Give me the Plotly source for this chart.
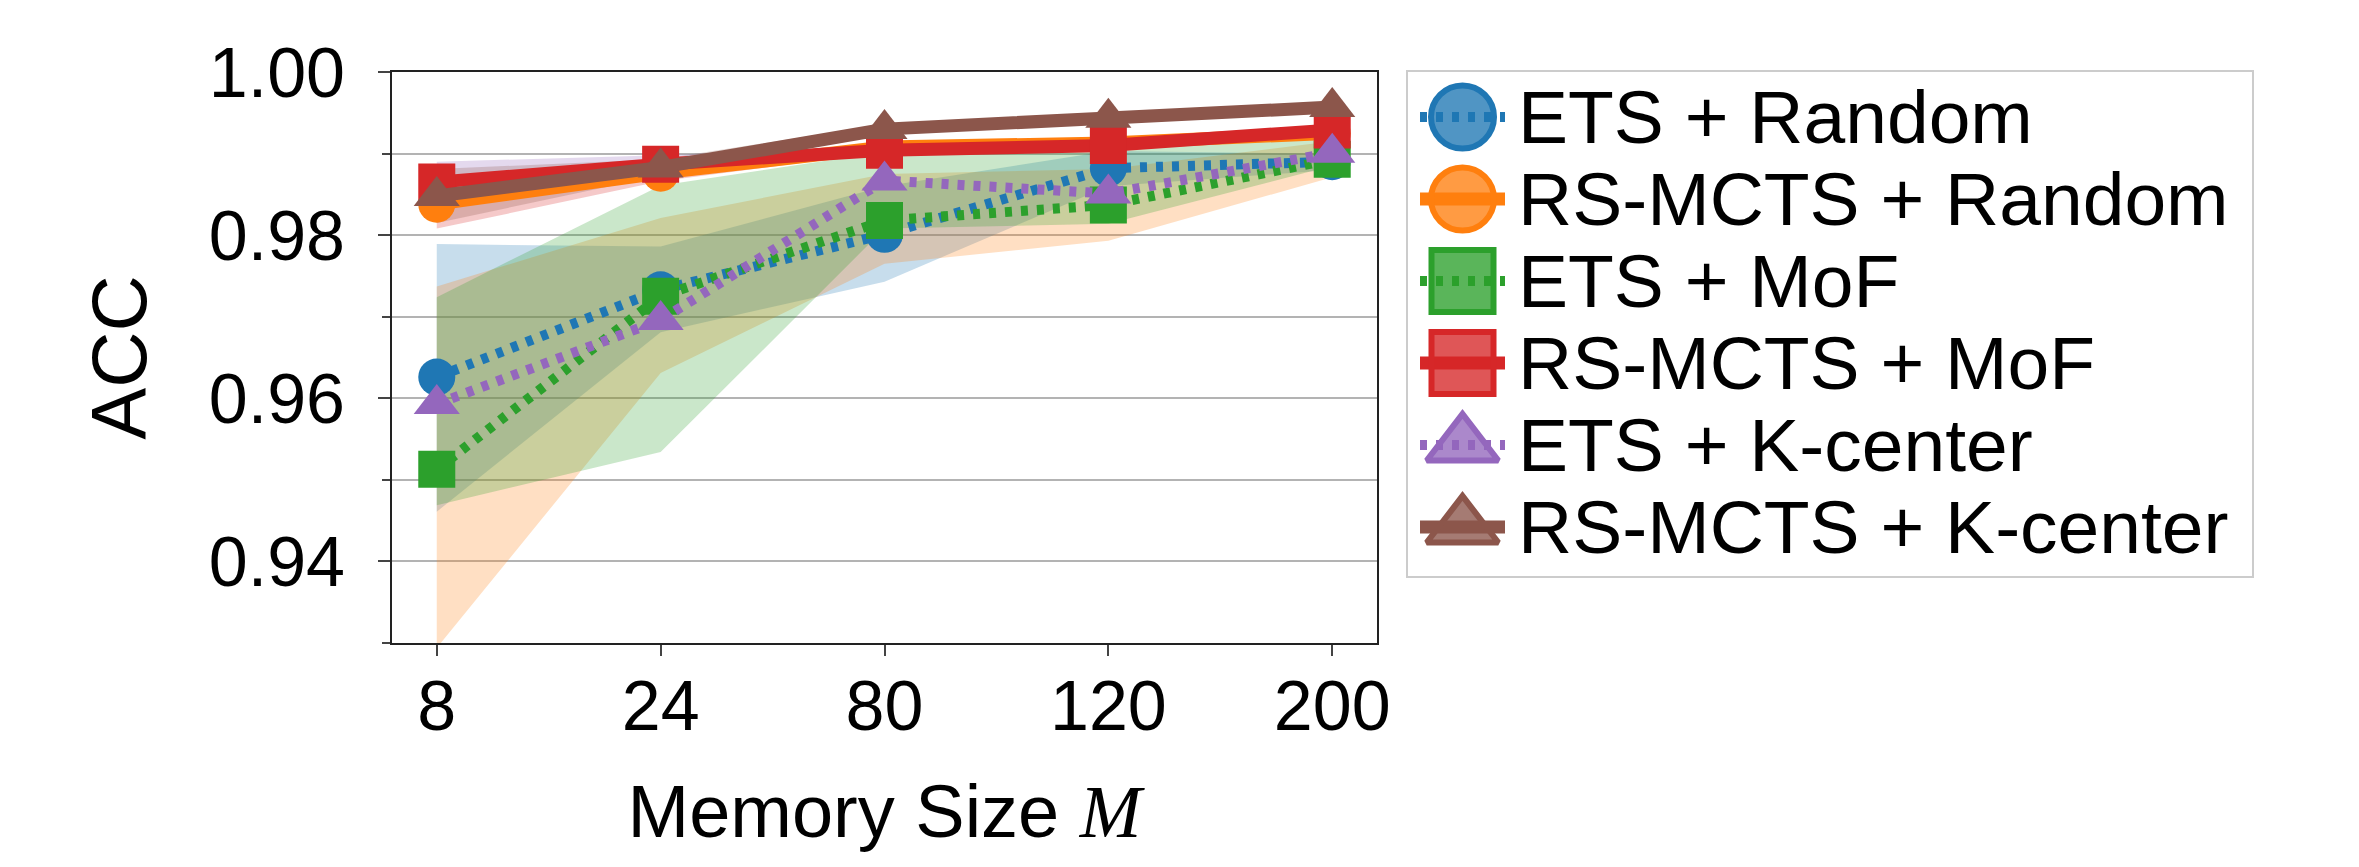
import plotly.graph_objects as go

# ---------------- data ----------------
memory_sizes = ["8", "24", "80", "120", "200"]

series_names = ["ETS + Random", "RS-MCTS + Random", "ETS + MoF",
                "RS-MCTS + MoF", "ETS + K-center", "RS-MCTS + K-center"]

ets_random = [0.9626, 0.9733, 0.9801, 0.9882, 0.9890]
rs_random = [0.9838, 0.9876, 0.9908, 0.9913, 0.9925]
ets_mof = [0.9513, 0.9725, 0.9818, 0.9837, 0.9893]
rs_mof = [0.9865, 0.9887, 0.9904, 0.9910, 0.9929]
ets_kcenter = [0.9593, 0.9696, 0.9867, 0.9851, 0.9901]
rs_kcenter = [0.9848, 0.9883, 0.9930, 0.9944, 0.9957]

# shaded band bounds (lower / upper)
ets_random_lo = [0.9461, 0.9681, 0.9743, 0.9860, 0.9880]
ets_random_hi = [0.9789, 0.9786, 0.9860, 0.9903, 0.9900]
ets_mof_lo = [0.9294, 0.9631, 0.9765, 0.9793, 0.9871]
ets_mof_hi = [0.9737, 0.9821, 0.9875, 0.9881, 0.9915]
ets_kcenter_lo = [0.9469, 0.9534, 0.9808, 0.9814, 0.9885]
ets_kcenter_hi = [0.9724, 0.9861, 0.9902, 0.9906, 0.9918]
rs_random_lo = [0.9808, 0.9866, 0.9902, 0.9907, 0.9919]
rs_random_hi = [0.9868, 0.9886, 0.9914, 0.9919, 0.9931]
rs_mof_lo = [0.9840, 0.9876, 0.9899, 0.9905, 0.9924]
rs_mof_hi = [0.9890, 0.9898, 0.9909, 0.9915, 0.9934]
rs_kcenter_lo = [0.9815, 0.9873, 0.9924, 0.9939, 0.9952]
rs_kcenter_hi = [0.9881, 0.9893, 0.9936, 0.9949, 0.9962]

# ---------------- style ----------------
C = ["#1f77b4", "#ff7f0e", "#2ca02c", "#d62728", "#9467bd", "#8c564b"]


def rgba(hex_color, a):
    h = hex_color.lstrip("#")
    r, g, b = int(h[0:2], 16), int(h[2:4], 16), int(h[4:6], 16)
    return f"rgba({r},{g},{b},{a})"


line_series = [ets_random, rs_random, ets_mof, rs_mof, ets_kcenter, rs_kcenter]
line_colors = C
symbols = ["circle", "circle", "square", "square", "triangle-up", "triangle-up"]
marker_sizes = [37, 37, 37, 37, 40, 40]
legend_marker_sizes = [63, 63, 62, 62, 62, 62]
dotted = [True, False, True, False, True, False]

# bands (fill colours cycle in their own order)
bands = [
    (ets_random_lo, ets_random_hi, C[0]),
    (ets_mof_lo, ets_mof_hi, C[1]),
    (ets_kcenter_lo, ets_kcenter_hi, C[2]),
    (rs_random_lo, rs_random_hi, C[3]),
    (rs_mof_lo, rs_mof_hi, C[4]),
    (rs_kcenter_lo, rs_kcenter_hi, C[5]),
]

DOT = "7px,9px"
SANS = "Liberation Sans, Arial, sans-serif"

fig = go.Figure()

for lo, hi, col in bands:
    fig.add_trace(go.Scatter(
        x=memory_sizes + memory_sizes[::-1],
        y=hi + lo[::-1],
        fill="toself", fillcolor=rgba(col, 0.25),
        line=dict(width=0), mode="lines",
        hoverinfo="skip", showlegend=False,
        xaxis="x", yaxis="y",
    ))

for name, ys, col, sym, ms, dot in zip(series_names, line_series, line_colors,
                                       symbols, marker_sizes, dotted):
    fig.add_trace(go.Scatter(
        x=memory_sizes, y=ys, name=name, mode="lines+markers",
        line=dict(color=col, width=10 if dot else 13, dash=DOT if dot else "solid"),
        marker=dict(symbol=sym, size=ms, color=col, line=dict(width=0)),
        showlegend=False, xaxis="x", yaxis="y",
    ))

# ---------------- geometry (figure pixels; page body adds an 8px margin) ----------------
W, H = 2343, 851
ML, MR, MT, MB = 384, 93, 64, 216
paper_w = W - ML - MR
paper_h = H - MT - MB
plot_right = 1369
leg_left, leg_right, leg_bottom = 1400, 2244, 568
leg_w = leg_right - leg_left
leg_h = leg_bottom - MT
row_first, row_step = 45, 82
handle_x0, handle_x1, text_x = 12, 97, 108

# ---------------- custom legend ----------------
for i, (name, col, sym, lms, dot) in enumerate(zip(series_names, line_colors, symbols,
                                                 legend_marker_sizes, dotted)):
    fig.add_trace(go.Scatter(
        x=[handle_x0, handle_x1], y=[i, i], mode="lines",
        line=dict(color=col, width=10 if dot else 13, dash=DOT if dot else "solid"),
        showlegend=False, hoverinfo="skip", xaxis="x2", yaxis="y2",
    ))
    fig.add_trace(go.Scatter(
        x=[(handle_x0 + handle_x1) / 2], y=[i], mode="markers",
        marker=dict(symbol=sym, size=lms, color=rgba(col, 0.78),
                    line=dict(color=col, width=6)),
        showlegend=False, hoverinfo="skip", xaxis="x2", yaxis="y2",
    ))
    fig.add_annotation(
        x=text_x, y=i, xref="x2", yref="y2", text=name, showarrow=False,
        xanchor="left", yanchor="middle",
        font=dict(family=SANS, size=75, color="black"),
    )

grid_col = "#b3b3b3"
axis_col = "#222222"

fig.update_layout(
    width=W, height=H,
    margin=dict(l=ML, r=MR, t=MT, b=MB, pad=0),
    paper_bgcolor="white", plot_bgcolor="white",
    showlegend=False,
    xaxis=dict(
        domain=[0, (plot_right - ML) / paper_w],
        type="category", range=[-0.2, 4.2],
        showgrid=False, zeroline=False,
        showline=True, mirror=True, linecolor=axis_col, linewidth=2,
        ticks="outside", ticklen=11, tickwidth=1.5, tickcolor="#444",
        tickfont=dict(family=SANS, size=70, color="black"),
        ticklabelstandoff=-10,
        title=dict(text="Memory Size <span style='font-family:Liberation Serif'><i>M</i></span>",
                   font=dict(family=SANS, size=74, color="black"), standoff=41),
    ),
    yaxis=dict(
        domain=[0, 1],
        range=[0.93, 1.0], dtick=0.02, tick0=0, tickformat=".2f",
        showgrid=True, gridcolor=grid_col, gridwidth=1.5, zeroline=False,
        showline=True, mirror=True, linecolor=axis_col, linewidth=2,
        ticks="outside", ticklen=12, tickwidth=1.5, tickcolor="#444",
        minor=dict(dtick=0.01, tick0=0, ticks="outside", ticklen=8, tickwidth=1.5,
                   tickcolor="#444", showgrid=True, gridcolor=grid_col, gridwidth=1.5),
        tickfont=dict(family=SANS, size=70, color="black"),
        ticklabelstandoff=19,
        title=dict(text="ACC", font=dict(family=SANS, size=78, color="black"), standoff=36),
    ),
    xaxis2=dict(
        domain=[(leg_left - ML) / paper_w, (leg_right - ML) / paper_w],
        anchor="y2", range=[0, leg_w],
        showgrid=False, zeroline=False, showticklabels=False, ticks="",
        showline=True, mirror=True, linecolor="#cccccc", linewidth=2,
    ),
    yaxis2=dict(
        domain=[(H - MB - leg_bottom) / paper_h, 1],
        anchor="x2",
        range=[(leg_h - row_first) / row_step, -row_first / row_step],
        showgrid=False, zeroline=False, showticklabels=False, ticks="",
        showline=True, mirror=True, linecolor="#cccccc", linewidth=2,
    ),
)

fig.write_html("out.html")
